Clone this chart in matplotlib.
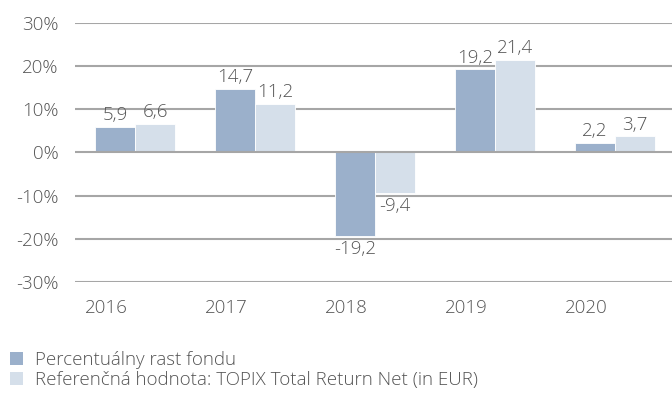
import matplotlib
matplotlib.use("Agg")
import matplotlib.pyplot as plt
from matplotlib.patches import Patch
import numpy as np

years = ["2016", "2017", "2018", "2019", "2020"]
fund = [5.9, 14.7, -19.2, 19.2, 2.2]
benchmark = [6.6, 11.2, -9.4, 21.4, 3.7]
yticks = [-30, -20, -10, 0, 10, 20, 30]
series_names = ["Percentuálny rast fondu",
                "Referenčná hodnota: TOPIX Total Return Net (in EUR)"]

c_dark = "#9BB0CB"
c_light = "#D5DFEA"
c_text = "#555555"
c_grid = "#A6A6A6"

plt.rcParams['font.family'] = ['Open Sans', 'DejaVu Sans']
plt.rcParams['font.weight'] = 'light'

fig = plt.figure(figsize=(6.72, 4.01), dpi=100)
ax = fig.add_axes([75/672, 1-282.3/401, 600/672, (282.3-22.7)/401])

x = np.arange(len(years))
w = 1/3
b1 = ax.bar(x - w/2, fund, width=w, color=c_dark, edgecolor="white", linewidth=0.6, zorder=3)
b2 = ax.bar(x + w/2, benchmark, width=w, color=c_light, edgecolor="white", linewidth=0.6, zorder=3)

fs = 13.5
for bars, vals in ((b1, fund), (b2, benchmark)):
    for rect, v in zip(bars, vals):
        cx = rect.get_x() + rect.get_width()/2
        lab = f"{v:.1f}".replace(".", ",")
        if v >= 0:
            ax.annotate(lab, (cx, v), xytext=(0, 2), textcoords="offset points",
                        ha="center", va="bottom", fontsize=fs, color=c_text, zorder=4)
        else:
            ax.annotate(lab, (cx, v), xytext=(0, -3), textcoords="offset points",
                        ha="center", va="top", fontsize=fs, color=c_text, zorder=4)

ax.set_xlim(-0.5, len(years) - 0.5)
ax.set_ylim(-30, 30)
ax.set_yticks(yticks)
ax.set_yticklabels([f"{t}%" for t in yticks])
ax.set_xticks(x - 0.24)
ax.set_xticklabels(years)
ax.tick_params(axis="both", length=0, labelsize=fs, colors=c_text)
ax.tick_params(axis="y", pad=12)
ax.tick_params(axis="x", pad=12)
for s in ax.spines.values():
    s.set_visible(False)
for t in yticks:
    ax.axhline(t, color=c_grid, lw=1.5, zorder=1 if t != 0 else 3.5)

handles = [Patch(facecolor=c_dark, edgecolor="none"), Patch(facecolor=c_light, edgecolor="none")]
leg = fig.legend(handles, series_names, loc="upper left", bbox_to_anchor=(10/672, 1-351/401),
                 frameon=False, fontsize=fs, handlelength=0.69, handleheight=0.69,
                 handletextpad=0.64, labelspacing=0.1, borderpad=0, borderaxespad=0)
for t in leg.get_texts():
    t.set_color(c_text)

fig.savefig("out.png", dpi=100)
